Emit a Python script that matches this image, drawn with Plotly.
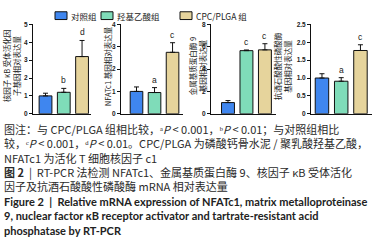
import plotly.graph_objects as go

# ---------------- data ----------------
groups = ["对照组", "羟基乙酸组", "CPC/PLGA 组"]
colors = ["#3f86ef", "#7fdcb9", "#e6d49c"]

rankl_vals = [1.0, 1.2, 3.2]
rankl_err = [0.15, 0.22, 0.9]
rankl_sig = ["", "b", "d"]

nfatc1_vals = [1.0, 0.95, 2.75]
nfatc1_err = [0.2, 0.22, 0.43]
nfatc1_sig = ["", "a", "c"]

mmp9_vals = [1.0, 5.65, 5.72]
mmp9_err = [0.18, 0.06, 0.55]
mmp9_sig = ["", "c", "c"]

trap_vals = [1.0, 0.91, 1.77]
trap_err = [0.12, 0.10, 0.16]
trap_sig = ["", "a", "c"]

panels = [
    dict(vals=rankl_vals, err=rankl_err, sig=rankl_sig,
         title="核因子 κB 受体活化因<br>子基因相对表达量",
         tickvals=[0, 1, 2, 3, 4, 5], ticktext=["0", "1", "2", "3", "4", "5"]),
    dict(vals=nfatc1_vals, err=nfatc1_err, sig=nfatc1_sig,
         title="NFATc1 基因相对表达量",
         tickvals=[0, 1, 2, 3, 4], ticktext=["0", "1", "2", "3", "4"]),
    dict(vals=mmp9_vals, err=mmp9_err, sig=mmp9_sig,
         title="金属基质蛋白酶 9<br>基因相对表达量",
         tickvals=[0, 2, 4, 6, 8], ticktext=["0", "2", "4", "6", "8"]),
    dict(vals=trap_vals, err=trap_err, sig=trap_sig,
         title="抗酒石酸酸性磷酸酶<br>基因相对表达量",
         tickvals=[0, 0.5, 1.0, 1.5, 2.0, 2.5],
         ticktext=["0", "0.5", "1.0", "1.5", "2.0", "2.5"]),
]

caption_cn = [
    "图注：与 CPC/PLGA 组相比较，ᵃ<i>P</i> < 0.001，ᵇ<i>P</i> < 0.01；与对照组相比",
    "较，ᶜ<i>P</i> < 0.001，ᵈ<i>P</i> < 0.01。CPC/PLGA 为磷酸钙骨水泥 / 聚乳酸羟基乙酸，",
    "NFATc1 为活化 T 细胞核因子 c1",
    "<b>图 2</b>  |  RT-PCR 法检测 NFATc1、金属基质蛋白酶 9、核因子 κB 受体活化",
    "因子及抗酒石酸酸性磷酸酶 mRNA 相对表达量",
]
caption_en = [
    "Figure 2  |  Relative mRNA expression of NFATc1, matrix metalloproteinase",
    "9, nuclear factor κB receptor activator and tartrate-resistant acid",
    "phosphatase by RT-PCR",
]

# ---------------- layout geometry (pixels) ----------------
W, H = 381, 244
def px(x):
    return x / W
def py(y):
    return 1 - y / H

x_domains = [(33, 91), (121, 183), (211, 276), (311, 372)]
x_ranges = [(-0.685, 2.49), (-0.86, 2.58), (-0.92, 2.6), (-0.57, 2.6)]
title_x = [11, 107, 197, 282]
y_dom = [py(113), py(21)]

fig = go.Figure()
annotations = []
shapes = []

for i, p in enumerate(panels):
    xa = "x" if i == 0 else f"x{i+1}"
    ya = "y" if i == 0 else f"y{i+1}"
    fig.add_trace(go.Bar(
        x=[0, 1, 2], y=p["vals"], width=0.7,
        marker=dict(color=colors, line=dict(color="#111111", width=1)),
        error_y=dict(type="data", symmetric=False, array=p["err"],
                     arrayminus=[0, 0, 0], color="#111111", thickness=1, width=2.5),
        xaxis=xa, yaxis=ya, showlegend=False, hoverinfo="skip",
    ))
    xkey = "xaxis" if i == 0 else f"xaxis{i+1}"
    ykey = "yaxis" if i == 0 else f"yaxis{i+1}"
    d = x_domains[i]
    fig.update_layout(**{
        xkey: dict(domain=[px(d[0]), px(d[1])], range=list(x_ranges[i]),
                   showline=True, linecolor="#111111", linewidth=1,
                   showticklabels=False, ticks="", showgrid=False, zeroline=False,
                   anchor=ya, fixedrange=True),
        ykey: dict(domain=y_dom, range=[0, p["tickvals"][-1]],
                   tickvals=p["tickvals"], ticktext=p["ticktext"],
                   showline=True, linecolor="#111111", linewidth=1,
                   ticks="outside", ticklen=3, tickwidth=1, tickcolor="#111111",
                   tickfont=dict(family="Liberation Sans", size=6.5, color="#222222",
                                 weight="bold"),
                   showgrid=False, zeroline=False, anchor=xa, fixedrange=True),
    })
    # significance letters
    for j in range(3):
        if p["sig"][j]:
            annotations.append(dict(
                x=j, y=p["vals"][j] + p["err"][j], xref=xa, yref=ya,
                text=p["sig"][j], showarrow=False, yanchor="bottom", yshift=1,
                font=dict(family="Liberation Sans", size=8.5, color="#222222"),
            ))
    # y-axis title
    annotations.append(dict(
        x=px(title_x[i]), y=py(64), xref="paper", yref="paper",
        text=p["title"], textangle=-90, showarrow=False,
        xanchor="center", yanchor="middle",
        font=dict(family="Noto Sans CJK SC", size=7.5, color="#222222"),
    ))

# ---------------- legend (manual) ----------------
legend_box_x = [55, 101, 180]
for k in range(3):
    bx = legend_box_x[k]
    shapes.append(dict(type="rect", xref="paper", yref="paper",
                       x0=px(bx), x1=px(bx + 12), y0=py(16), y1=py(8),
                       fillcolor=colors[k], line=dict(color="#111111", width=1)))
    annotations.append(dict(x=px(bx + 14), y=py(12), xref="paper", yref="paper",
                            text=groups[k], showarrow=False, xanchor="left", yanchor="middle",
                            font=dict(family="Noto Sans CJK SC", size=8.5, color="#222222")))

# ---------------- caption ----------------
annotations.append(dict(
    x=px(2), y=py(158), xref="paper", yref="paper",
    text="<br>".join(caption_cn), showarrow=False, xanchor="left", yanchor="middle",
    align="left", font=dict(family="Noto Sans CJK SC", size=11, color="#2a2a2a"),
))
annotations.append(dict(
    x=px(2), y=py(218.5), xref="paper", yref="paper",
    text="<br>".join(caption_en), showarrow=False, xanchor="left", yanchor="middle",
    align="left", font=dict(family="Lato", size=11, color="#222222", weight="bold"),
))

fig.update_layout(
    width=W, height=H,
    margin=dict(l=0, r=0, t=0, b=0),
    paper_bgcolor="white", plot_bgcolor="white",
    annotations=annotations, shapes=shapes,
    bargap=0.3,
)

fig.write_html("out.html", config={"displayModeBar": False},
               post_script="document.body.style.margin='0';document.body.style.overflow='hidden';")
